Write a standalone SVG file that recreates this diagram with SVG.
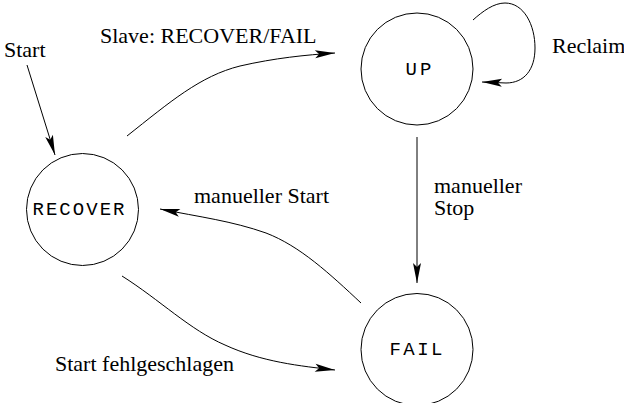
<svg xmlns="http://www.w3.org/2000/svg" width="624" height="403" viewBox="0 0 624 403">
  <style>
    .state { fill: none; stroke: #000; stroke-width: 1; }
    .edge { fill: none; stroke: #000; stroke-width: 1; }
    .label { font-family: "Liberation Serif", "Times New Roman", serif; font-size: 22px; fill: #000; }
    .name { font-family: "Liberation Mono", "Courier New", monospace; font-size: 19px; fill: #000; }
  </style>
  <defs>
    <marker id="arrow" viewBox="-21 -5 22 10" markerWidth="22" markerHeight="10" refX="0" refY="0" orient="auto" markerUnits="userSpaceOnUse">
      <path d="M0,0 L-20,-4 L-16,0 L-20,4 Z" fill="#000"/>
    </marker>
  </defs>
  <rect width="624" height="403" fill="#fff"/>

  <g id="connectors">
    <!-- initial transition -->
    <path class="edge" d="M27,65 L55,155" marker-end="url(#arrow)"/>
    <!-- RECOVER to UP -->
    <path class="edge" d="M127,136 C170,102 200,76 240,66 C275,58 305,55 335,53" marker-end="url(#arrow)"/>
    <!-- UP self-loop -->
    <path class="edge" d="M473,20 C483,11 494,3 505,3 C524,3 535,25 535,48 C535,70 524,83 506,83 L482,82" marker-end="url(#arrow)"/>
    <!-- UP to FAIL -->
    <path class="edge" d="M417,137 L417,283" marker-end="url(#arrow)"/>
    <!-- FAIL to RECOVER -->
    <path class="edge" d="M361,303 C330,274 300,246 266,233 C232,221 200,217 160,209" marker-end="url(#arrow)"/>
    <!-- RECOVER to FAIL -->
    <path class="edge" d="M122,276 C160,300 190,330 225,345 C262,362 300,366 335,370" marker-end="url(#arrow)"/>
  </g>

  <g id="state-up">
    <circle class="state" cx="417" cy="69" r="56"/>
    <text class="name" x="405.5" y="74.5" textLength="26" lengthAdjust="spacing">UP</text>
  </g>
  <g id="state-recover">
    <circle class="state" cx="82.5" cy="209.5" r="56"/>
    <text class="name" x="32.5" y="214.5" textLength="92" lengthAdjust="spacing">RECOVER</text>
  </g>
  <g id="state-fail">
    <circle class="state" cx="417" cy="349.5" r="56"/>
    <text class="name" x="389.5" y="354.5" textLength="53" lengthAdjust="spacing">FAIL</text>
  </g>

  <g id="labels">
    <text class="label" x="4" y="57">Start</text>
    <text class="label" x="100" y="43">Slave: RECOVER/FAIL</text>
    <text class="label" x="552" y="53">Reclaim</text>
    <text class="label" x="434" y="193">manueller</text>
    <text class="label" x="434" y="214.5">Stop</text>
    <text class="label" x="194" y="203">manueller Start</text>
    <text class="label" x="55" y="371">Start fehlgeschlagen</text>
  </g>
</svg>
